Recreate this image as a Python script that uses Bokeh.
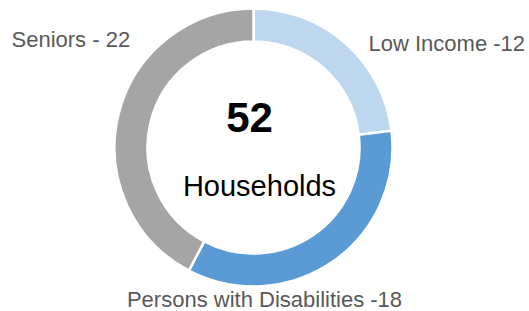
import math
from bokeh.plotting import figure
from bokeh.models import ColumnDataSource, Range1d
from bokeh.core.properties import value
from bokeh.embed import file_html
from bokeh.resources import INLINE

categories = ["Low Income", "Persons with Disabilities", "Seniors"]
counts = [12, 18, 22]
colors = ["#BDD7EE", "#5B9BD5", "#A5A5A5"]
labels = ["Low Income -12", "Persons with Disabilities -18", "Seniors - 22"]
total_label = "52"
center_label = "Households"

W, H = 529, 311
p = figure(width=W, height=H, output_backend="svg", toolbar_location=None,
           x_range=Range1d(0, W), y_range=Range1d(0, H), min_border=0)
p.margin = (0, 0, 0, 0)
p.axis.visible = False
p.grid.visible = False
p.outline_line_color = None
p.background_fill_color = "white"

total = sum(counts)
starts, ends = [], []
acc = 0.0
for c in counts:
    starts.append(math.pi / 2 - 2 * math.pi * acc / total)
    acc += c
    ends.append(math.pi / 2 - 2 * math.pi * acc / total)

src = ColumnDataSource(dict(cat=categories, val=counts, color=colors,
                            start=starts, end=ends))
cx, cy = 253, H - 147
p.annular_wedge(x=cx, y=cy, inner_radius=106, outer_radius=139,
                start_angle="start", end_angle="end", direction="clock",
                fill_color="color", line_color="white", line_width=2.5,
                source=src)

font = value("Liberation Sans")
p.text(x=[249], y=[H - 116.5], text=[total_label], text_font=font,
       text_font_size="42px", text_font_style="bold", text_color="black",
       text_align="center", text_baseline="middle")
p.text(x=[259], y=[H - 185.5], text=[center_label], text_font=font,
       text_font_size="29px", text_color="black",
       text_align="center", text_baseline="middle")

lab_x = [368, 264, 11]
lab_y = [H - 43.3, H - 298.5, H - 39.2]
lab_align = ["left", "center", "left"]
p.text(x=lab_x, y=lab_y, text=labels, text_font=font,
       text_font_size="22px", text_color="#595959",
       text_align=lab_align, text_baseline="middle")

open("out.html", "w").write(file_html(p, INLINE))
